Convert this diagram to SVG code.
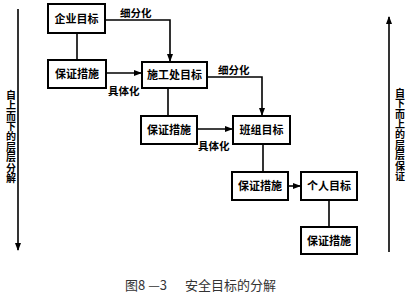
<svg xmlns="http://www.w3.org/2000/svg" width="410" height="298" viewBox="0 0 410 298">
<defs>
<marker id="ah" markerWidth="8" markerHeight="8" refX="7" refY="4" orient="auto" markerUnits="userSpaceOnUse">
<path d="M0,1 L8,4 L0,7 Z" fill="#000"/>
</marker>
<style>
.box{fill:#fff;stroke:#000;stroke-width:2}
.t{font-family:"Noto Sans CJK SC","Noto Sans",sans-serif;font-size:11px;font-weight:bold;text-anchor:middle;fill:#000}
.lb{font-family:"Noto Sans CJK SC","Noto Sans",sans-serif;font-size:10.5px;font-weight:bold;fill:#000}
.v{font-family:"Noto Sans CJK SC","Noto Sans",sans-serif;font-size:10px;font-weight:bold;fill:#000;writing-mode:vertical-rl;text-orientation:upright;letter-spacing:0.4px}
.ln{fill:none;stroke:#000;stroke-width:1.6}
.cap{font-family:"Noto Sans CJK SC","Noto Sans",sans-serif;font-size:13px;fill:#333}
</style>
</defs>
<rect width="410" height="298" fill="#fff"/>
<g id="connectors">
<path class="ln" d="M77,33 V60"/>
<path class="ln" d="M105,20 H170 V61" marker-end="url(#ah)"/>
<path class="ln" d="M106,73 H141" marker-end="url(#ah)"/>
<path class="ln" d="M168,88 V116"/>
<path class="ln" d="M207,77 H262 V115" marker-end="url(#ah)"/>
<path class="ln" d="M197,129 H232" marker-end="url(#ah)"/>
<path class="ln" d="M263,144 V172"/>
<path class="ln" d="M288,186 H300" marker-end="url(#ah)"/>
<path class="ln" d="M329,200 V227"/>
<path class="ln" d="M18,9 V250" marker-end="url(#ah)"/>
<path class="ln" d="M389,252 V17" marker-end="url(#ah)"/>
<text class="lb" x="120" y="17">细分化</text>
<text class="lb" x="108" y="95">具体化</text>
<text class="lb" x="218" y="74">细分化</text>
<text class="lb" x="198" y="150">具体化</text>
</g>
<g id="n1"><rect class="box" x="48" y="4" width="57" height="29"/><text class="t" x="76.5" y="22.5">企业目标</text></g>
<g id="n2"><rect class="box" x="48" y="60" width="58" height="28"/><text class="t" x="77" y="78">保证措施</text></g>
<g id="n3"><rect class="box" x="142" y="62" width="65" height="26"/><text class="t" x="174.5" y="79">施工处目标</text></g>
<g id="n4"><rect class="box" x="141" y="116" width="56" height="28"/><text class="t" x="169" y="134">保证措施</text></g>
<g id="n5"><rect class="box" x="233" y="116" width="57" height="28"/><text class="t" x="261.5" y="134">班组目标</text></g>
<g id="n6"><rect class="box" x="232" y="172" width="56" height="28"/><text class="t" x="260" y="190">保证措施</text></g>
<g id="n7"><rect class="box" x="301" y="172" width="56" height="28"/><text class="t" x="329" y="190">个人目标</text></g>
<g id="n8"><rect class="box" x="301" y="227" width="56" height="27"/><text class="t" x="329" y="244.5">保证措施</text></g>
<g id="left-label"><text class="v" x="11" y="90">自上而下的层层分解</text></g>
<g id="right-label"><text class="v" x="400" y="88">自下而上的层层保证</text></g>
<text class="cap" x="125" y="290">图8 —3</text>
<text class="cap" x="185" y="290">安全目标的分解</text>
</svg>
